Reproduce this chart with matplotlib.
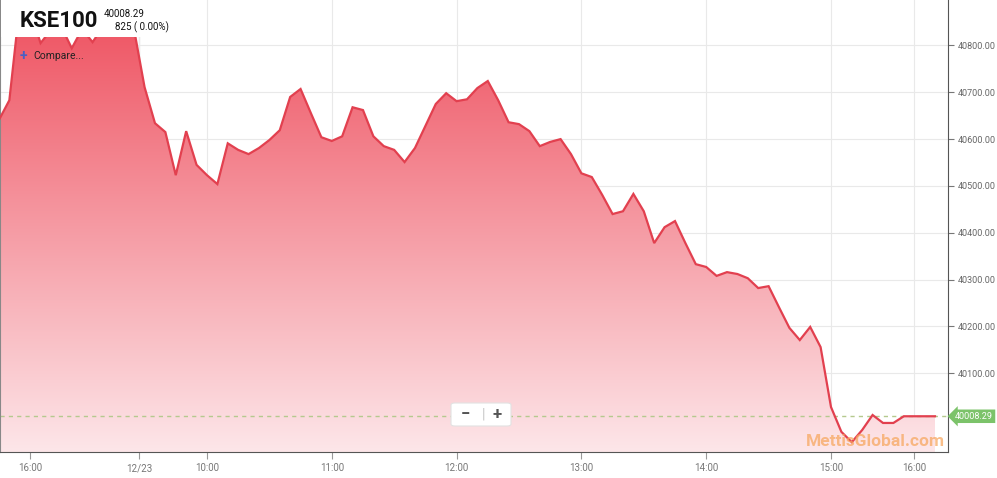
import numpy as np
import matplotlib
matplotlib.use('agg')
from matplotlib import pyplot as plt
from matplotlib.patches import Rectangle, FancyBboxPatch

plt.rcParams['font.family'] = ['Roboto', 'DejaVu Sans']

# KSE100 intraday, one sample every 5 minutes (index based axis)
values = [
    40641, 40683, 40886, 40875, 40805, 40833, 40840, 40794, 40835, 40807,
    40840, 40845, 40843, 40833, 40711, 40634, 40615, 40523, 40617, 40545,
    40523, 40504, 40591, 40577, 40568, 40581, 40598, 40619, 40690, 40707,
    40655, 40604, 40596, 40606, 40668, 40662, 40606, 40585, 40577, 40551,
    40581, 40628, 40675, 40698, 40681, 40685, 40709, 40724, 40683, 40636,
    40632, 40617, 40585, 40594, 40600, 40568, 40527, 40519, 40481, 40440,
    40446, 40483, 40446, 40378, 40412, 40425, 40378, 40333, 40327, 40308,
    40316, 40312, 40303, 40282, 40286, 40241, 40197, 40171, 40199, 40156,
    40028, 39975, 39953, 39979, 40011, 39994, 39994, 40008.29, 40008.29, 40008.29,
    40008.29,
]
tick_pos = [3, 13.5, 20, 32, 44, 56, 68, 80, 88]
tick_labels = ['16:00', '12/23', '10:00', '11:00', '12:00', '13:00', '14:00', '15:00', '16:00']
y_ticks = [40100, 40200, 40300, 40400, 40500, 40600, 40700, 40800]
last_price = 40008.29
change_text = '825 ( 0.00%)'

xs = np.arange(len(values))
ys = np.array(values)

W, H = 997, 478
fig = plt.figure(figsize=(W / 100, H / 100), dpi=100)
ax = fig.add_axes([0, 26 / H, 948 / W, 452 / H])

ymin, ymax = 39932, 40897
ax.set_xlim(0.1, 91.25)
ax.set_ylim(ymin, ymax)

# gradient area
poly = ax.fill_between(xs, ys, ymin, color='none', lw=0)
top = np.array([238, 78, 93]) / 255
bot = np.array([253, 230, 233]) / 255
t = np.linspace(0, 1, 256)[:, None]
grad = (top * (1 - t) + bot * t)[:, None, :]
grad = np.repeat(grad, 2, axis=1)
img = ax.imshow(grad, extent=[xs[0], xs[-1], ymin, ymax], aspect='auto',
                origin='upper', zorder=1)
img.set_clip_path(poly.get_paths()[0], transform=ax.transData)
ax.plot(xs, ys, color='#e2404f', lw=1.6, zorder=3, solid_joinstyle='miter')

# last price line
ax.axhline(last_price, color='#b5c98e', lw=1, ls=(0, (3, 3)), zorder=2)

# grid
ax.set_yticks(y_ticks)
ax.set_xticks(tick_pos)
ax.set_xticklabels(tick_labels)
ax.set_yticklabels(['%.2f' % v for v in y_ticks])
ax.grid(True, color='#e9e9e9', lw=0.8, zorder=0)
ax.set_axisbelow(True)
ax.axvline(13.5, color='#d6d6d6', lw=0.9, zorder=0.5)

ax.yaxis.tick_right()
ax.tick_params(axis='y', length=4, width=0.8, color='#777777', pad=3,
               labelsize=6.5, labelcolor='#666666')
ax.tick_params(axis='x', length=5, width=0.8, color='#999999', pad=3,
               labelsize=7, labelcolor='#777777')
ax.spines['top'].set_visible(False)
ax.spines['left'].set_color('#888888')
ax.spines['right'].set_color('#555555')
ax.spines['bottom'].set_color('#555555')

# last price tag
ax.text(1.0 + 7 / 948, last_price, '%.2f' % last_price, transform=ax.get_yaxis_transform(),
        ha='left', va='center', fontsize=6.5, color='white', zorder=6, clip_on=False,
        bbox=dict(boxstyle='larrow,pad=0.25', fc='#7cc36a', ec='none'))

# header box
fig.add_artist(Rectangle((1 / W, 1 - 37 / H), 180 / W, 37 / H, transform=fig.transFigure,
                         fc='white', ec='none', zorder=5))
fig.text(20 / W, 1 - 21 / H, 'KSE100', fontsize=16, fontweight='bold', color='#111111',
         va='center', ha='left', zorder=6, fontstretch='condensed')
fig.text(104 / W, 1 - 14 / H, '%.2f' % last_price, fontsize=7, color='#111111',
         va='center', ha='left', zorder=6)
fig.text(115 / W, 1 - 27 / H, change_text, fontsize=7, color='#111111',
         va='center', ha='left', zorder=6)
fig.text(20 / W, 1 - 56 / H, '+', fontsize=10, fontweight='bold', color='#4a5fc4',
         va='center', ha='left', zorder=6)
fig.text(33 / W, 1 - 56 / H, 'Compare...', fontsize=7.5, color='#222222',
         va='center', ha='left', zorder=6)

# zoom buttons
fig.add_artist(FancyBboxPatch((451 / W, 1 - 426 / H), 60 / W, 23 / H,
                              boxstyle='round,pad=0,rounding_size=0.004',
                              transform=fig.transFigure, fc='white', ec='#e2e2e2',
                              lw=0.8, zorder=6))
fig.text(465 / W, 1 - 414 / H, '\u2212', fontsize=12, fontweight='bold',
         color='#555555', va='center', ha='center', zorder=7)
fig.text(483 / W, 1 - 414 / H, '|', fontsize=10, color='#c4c4c4',
         va='center', ha='center', zorder=7)
fig.text(497 / W, 1 - 414 / H, '+', fontsize=12, fontweight='bold',
         color='#555555', va='center', ha='center', zorder=7)

# watermark
fig.text(945 / W, 1 - 441 / H, 'MettisGlobal.com', fontsize=12.5, fontweight='bold',
         color='#f7a861', alpha=0.75, va='center', ha='right', zorder=6)

fig.savefig('out.png', dpi=100)
